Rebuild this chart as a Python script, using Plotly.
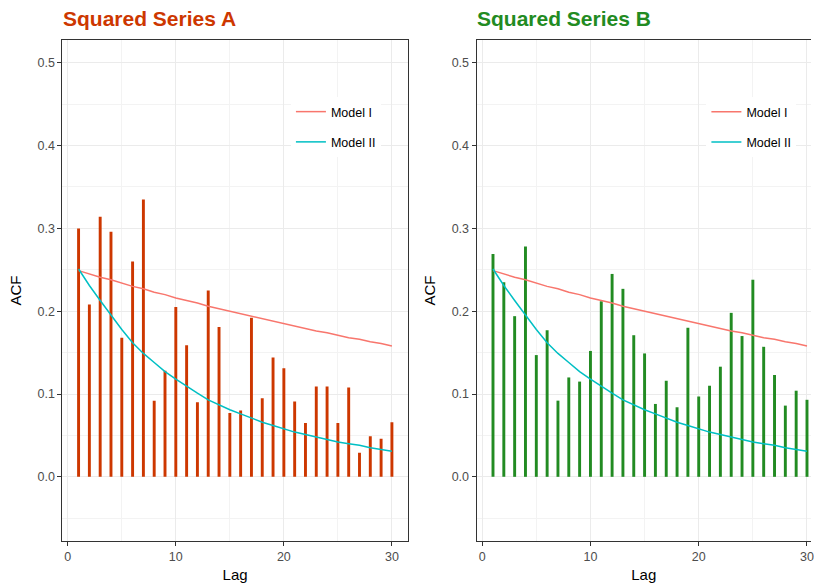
import plotly.graph_objects as go

lags = list(range(1, 31))

acf_a = [0.300, 0.208, 0.314, 0.296, 0.168, 0.260, 0.335, 0.092, 0.128, 0.205,
         0.159, 0.090, 0.225, 0.181, 0.077, 0.080, 0.192, 0.095, 0.144, 0.131,
         0.091, 0.065, 0.109, 0.109, 0.065, 0.108, 0.029, 0.049, 0.046, 0.066]

acf_b = [0.269, 0.235, 0.194, 0.278, 0.147, 0.177, 0.092, 0.120, 0.115, 0.152,
         0.212, 0.245, 0.227, 0.171, 0.149, 0.088, 0.116, 0.084, 0.180, 0.097,
         0.110, 0.133, 0.198, 0.170, 0.238, 0.157, 0.123, 0.086, 0.104, 0.093]

model_1 = [0.249, 0.245, 0.241, 0.238, 0.234, 0.230, 0.227, 0.223, 0.220, 0.216,
           0.213, 0.210, 0.206, 0.203, 0.200, 0.197, 0.194, 0.191, 0.188, 0.185,
           0.182, 0.179, 0.176, 0.174, 0.171, 0.168, 0.166, 0.163, 0.161, 0.158]

model_2 = [0.251, 0.231, 0.213, 0.195, 0.178, 0.162, 0.149, 0.138, 0.127, 0.118,
           0.109, 0.101, 0.093, 0.087, 0.081, 0.076, 0.071, 0.066, 0.062, 0.058,
           0.054, 0.051, 0.048, 0.045, 0.042, 0.040, 0.038, 0.035, 0.033, 0.031]

titles = ["Squared Series A", "Squared Series B"]
title_colors = ["#CD3700", "#228B22"]
bar_colors = ["#CD3700", "#228B22"]
model_names = ["Model I", "Model II"]
model_colors = ["#F8766D", "#00BFC4"]

W, H = 814, 585
FONT = "Liberation Sans, Arial, sans-serif"

fig = go.Figure()

panels = [
    dict(xa="x", ya="y", legend="legend", acf=acf_a),
    dict(xa="x2", ya="y2", legend="legend2", acf=acf_b),
]

for i, p in enumerate(panels):
    fig.add_trace(go.Bar(
        x=lags, y=p["acf"], width=0.27, marker=dict(color=bar_colors[i], line=dict(width=0)),
        xaxis=p["xa"], yaxis=p["ya"], showlegend=False, hoverinfo="x+y"))
    for name, vals, col in zip(model_names, [model_1, model_2], model_colors):
        fig.add_trace(go.Scatter(
            x=lags, y=vals, mode="lines", name=name,
            line=dict(color=col, width=1.5),
            xaxis=p["xa"], yaxis=p["ya"], legend=p["legend"],
            legendgroup=name + str(i)))

grid_major = "#EBEBEB"
grid_minor = "#F3F3F3"
axis_common = dict(
    showline=True, linecolor="#333333", linewidth=1,
    ticks="outside", ticklen=4, tickcolor="#333333", tickwidth=1,
    tickfont=dict(family=FONT, size=12.5, color="#4D4D4D"),
    showgrid=True, gridcolor=grid_major, gridwidth=1,
    zeroline=False, ticklabeloverflow="allow",
)

yrange = [-0.0775, 0.5275]

fig.update_layout(
    width=W, height=H,
    margin=dict(l=0, r=0, t=0, b=0),
    paper_bgcolor="white", plot_bgcolor="white",
    barmode="overlay",
    xaxis=dict(domain=[62.7 / W, 409.3 / W], range=[-0.49, 31.47], dtick=10, tick0=0,
               mirror=True, anchor="y",
               minor=dict(dtick=5, tick0=0, showgrid=True, gridcolor=grid_minor, gridwidth=0.6, ticks=""),
               title=dict(text="Lag", font=dict(family=FONT, size=15, color="black"), standoff=6),
               **axis_common),
    yaxis=dict(domain=[1 - 541 / H, 1 - 40 / H], range=yrange, dtick=0.1, tick0=0, tickformat=".1f",
               mirror=True, anchor="x",
               minor=dict(dtick=0.05, tick0=0, showgrid=True, gridcolor=grid_minor, gridwidth=0.6, ticks=""),
               title=dict(text="ACF", font=dict(family=FONT, size=15, color="black"), standoff=12),
               **axis_common),
    xaxis2=dict(domain=[478.3 / W, 1.0], range=[-0.52, 30.37], dtick=10, tick0=0,
                mirror=True, anchor="y2",
                minor=dict(dtick=5, tick0=0, showgrid=True, gridcolor=grid_minor, gridwidth=0.6, ticks=""),
                title=dict(text="Lag", font=dict(family=FONT, size=15, color="black"), standoff=6),
                **axis_common),
    yaxis2=dict(domain=[1 - 541 / H, 1 - 40 / H], range=yrange, dtick=0.1, tick0=0, tickformat=".1f",
                mirror=False, anchor="x2",
                minor=dict(dtick=0.05, tick0=0, showgrid=True, gridcolor=grid_minor, gridwidth=0.6, ticks=""),
                title=dict(text="ACF", font=dict(family=FONT, size=15, color="black"), standoff=12),
                **axis_common),
    legend=dict(x=292 / W, y=1 - 97 / H, xanchor="left", yanchor="top",
                bgcolor="white", borderwidth=0, tracegroupgap=11, itemwidth=30,
                font=dict(family=FONT, size=12.5, color="black")),
    legend2=dict(x=709 / W, y=1 - 97 / H, xanchor="left", yanchor="top",
                 bgcolor="white", borderwidth=0, tracegroupgap=11, itemwidth=30,
                 font=dict(family=FONT, size=12.5, color="black")),
    annotations=[
        dict(text="<b>%s</b>" % titles[0], x=61 / W, y=1 - 18 / H, xref="paper", yref="paper",
             xanchor="left", yanchor="middle", showarrow=False,
             font=dict(family=FONT, size=21, color=title_colors[0])),
        dict(text="<b>%s</b>" % titles[1], x=476.5 / W, y=1 - 18 / H, xref="paper", yref="paper",
             xanchor="left", yanchor="middle", showarrow=False,
             font=dict(family=FONT, size=21, color=title_colors[1])),
    ],
)

fig.write_html("out.html")
